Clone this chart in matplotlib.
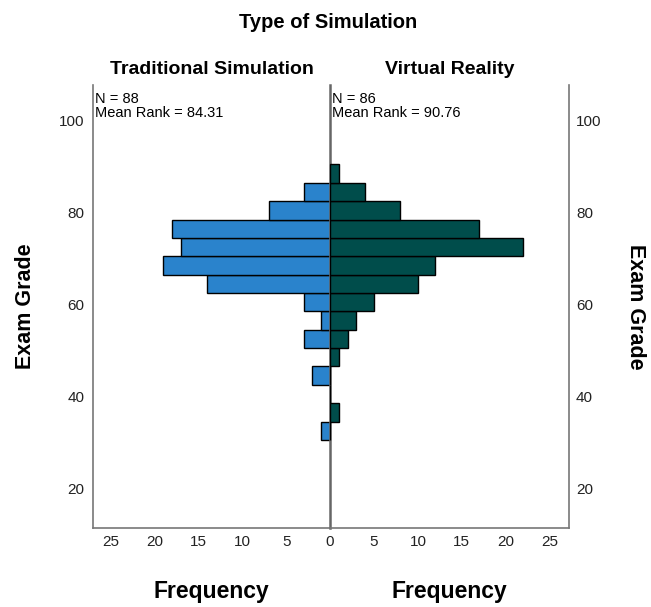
import matplotlib
matplotlib.use("Agg")
from matplotlib import pyplot as plt
import numpy as np

plt.rcParams['font.family'] = ['Liberation Sans', 'DejaVu Sans']

# histogram bins (lower edges), width 4
bin_edges = [30.5, 34.5, 38.5, 42.5, 46.5, 50.5, 54.5, 58.5, 62.5, 66.5, 70.5, 74.5, 78.5, 82.5, 86.5]
bin_width = 4
traditional = [1, 0, 0, 2, 0, 3, 1, 3, 14, 19, 17, 18, 7, 3, 0]
virtual_reality = [0, 1, 0, 0, 1, 2, 3, 5, 10, 12, 22, 17, 8, 4, 1]

group_names = ["Traditional Simulation", "Virtual Reality"]
group_stats = ["N = 88\nMean Rank = 84.31", "N = 86\nMean Rank = 90.76"]
freq_ticks_left = [0, 5, 10, 15, 20, 25]
freq_ticks_right = [5, 10, 15, 20, 25]
grade_ticks = [20, 40, 60, 80, 100]

blue = "#2a83cc"
teal = "#004d4b"

fig = plt.figure(figsize=(6.51, 6.07), dpi=100)
ax_l = fig.add_axes([0.1429, 0.130, 0.3641, 0.730])
ax_r = fig.add_axes([0.5070, 0.130, 0.3671, 0.730])
ax_r.patch.set_visible(False)

ax_l.barh(bin_edges, traditional, height=bin_width, align='edge',
          color=blue, edgecolor='black', linewidth=1.0)
ax_r.barh(bin_edges, virtual_reality, height=bin_width, align='edge',
          color=teal, edgecolor='black', linewidth=1.0)

for ax in (ax_l, ax_r):
    ax.set_ylim(11.3, 107.8)
    ax.set_yticks(grade_ticks)
    ax.spines['top'].set_visible(False)
    for s in ax.spines.values():
        s.set_color('#777777')
        s.set_linewidth(1.2)
    ax.tick_params(length=0, labelsize=11, colors='#222222')

ax_l.set_xlim(27.0, 0)
ax_r.set_xlim(0, 27.2)
ax_l.set_xticks(freq_ticks_left)
ax_r.set_xticks(freq_ticks_right)
ax_l.tick_params(axis='x', pad=5)
ax_r.tick_params(axis='x', pad=5)
ax_l.tick_params(axis='y', pad=6)
ax_l.spines['right'].set_visible(False)
ax_r.spines['left'].set_visible(False)
ax_r.yaxis.tick_right()
ax_r.tick_params(axis='y', pad=5, labelright=True, labelleft=False)
# centre line between the two halves
ax_r.axvline(0, color='#666666', linewidth=1.8, zorder=0.5, clip_on=False)

ax_l.set_ylabel("Exam Grade", fontsize=15.5, fontweight='bold', labelpad=17)
ax_r.yaxis.set_label_position('right')
ax_r.set_ylabel("Exam Grade", fontsize=15.5, fontweight='bold', rotation=270,
                labelpad=32)
ax_l.set_xlabel("Frequency", fontsize=16.5, fontweight='bold', labelpad=22)
ax_r.set_xlabel("Frequency", fontsize=16.5, fontweight='bold', labelpad=22)

ax_l.set_title(group_names[0], fontsize=14, fontweight='bold', pad=8)
ax_r.set_title(group_names[1], fontsize=14, fontweight='bold', pad=8)
fig.text(0.504, 0.963, "Type of Simulation", ha='center', va='center',
         fontsize=14.5, fontweight='bold')

ax_l.text(0.01, 0.985, group_stats[0], transform=ax_l.transAxes, ha='left', va='top',
          fontsize=10.5, linespacing=1.05)
ax_r.text(0.01, 0.985, group_stats[1], transform=ax_r.transAxes, ha='left', va='top',
          fontsize=10.5, linespacing=1.05)

fig.savefig("out.png", dpi=100)
